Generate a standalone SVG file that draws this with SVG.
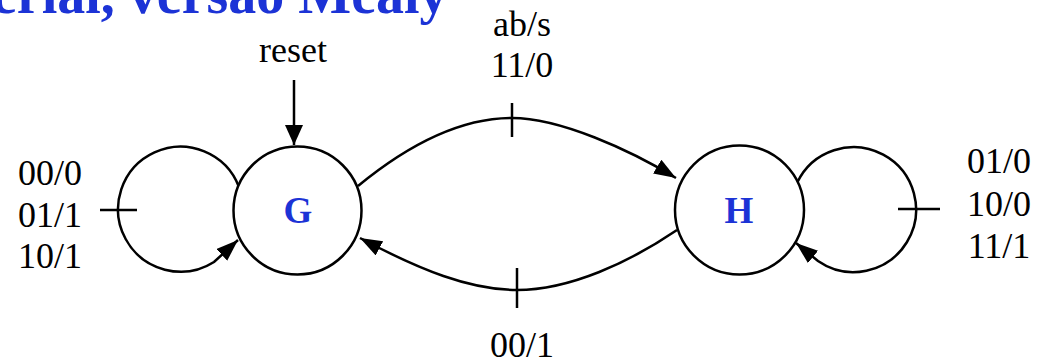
<svg xmlns="http://www.w3.org/2000/svg" width="1048" height="362" viewBox="0 0 1048 362">
<style>
.lbl{font-family:"Liberation Serif","Times New Roman",serif;font-size:36px;fill:#000;text-anchor:middle}
.st{font-family:"Liberation Serif","Times New Roman",serif;font-size:37px;font-weight:bold;fill:#1c33d6;text-anchor:middle}
.ttl{font-family:"Liberation Serif","Times New Roman",serif;font-size:56px;font-weight:bold;fill:#1c33d6}
.node{fill:#fff;stroke:#000;stroke-width:2.5}
.edge{fill:none;stroke:#000;stroke-width:2.5}
.tick{stroke:#000;stroke-width:2.5}
</style>
<defs>
<marker id="ah" markerUnits="userSpaceOnUse" markerWidth="24" markerHeight="18" refX="22" refY="8" orient="auto">
<path d="M0,0 L22,8 L0,16 z" fill="#000"/>
</marker>
<marker id="ahr" markerUnits="userSpaceOnUse" markerWidth="22" markerHeight="20" refX="20" refY="9" orient="auto">
<path d="M0,0 L20,9 L0,18 z" fill="#000"/>
</marker>
</defs>
<text class="ttl" x="-8" y="13">erial, versão Mealy</text>
<g id="connectors">
<path class="edge" d="M294 80 L294 145" marker-end="url(#ahr)"/>
<path class="edge" d="M239 187 A62.5 62.5 0 1 0 214 262 L238 240" marker-end="url(#ah)"/>
<path class="edge" d="M797 183 A62.5 62.5 0 1 1 818 261 L796 243" marker-end="url(#ah)"/>
<path class="edge" d="M358 186 C420 135 470 118 512 118 C560 118 630 150 676 178" marker-end="url(#ah)"/>
<path class="edge" d="M677 230 C630 262 570 290 517 290 C470 290 420 270 360 238" marker-end="url(#ah)"/>
<line class="tick" x1="512" y1="103" x2="512" y2="137"/>
<line class="tick" x1="517" y1="268" x2="517" y2="308"/>
<line class="tick" x1="100" y1="210" x2="137" y2="210"/>
<line class="tick" x1="898" y1="209" x2="940" y2="209"/>
<text class="lbl" x="293" y="62">reset</text>
<text class="lbl" x="522" y="36">ab/s</text>
<text class="lbl" x="522" y="77">11/0</text>
<text class="lbl" x="522" y="357">00/1</text>
<text class="lbl" x="50" y="185">00/0</text>
<text class="lbl" x="50" y="227">01/1</text>
<text class="lbl" x="50" y="268">10/1</text>
<text class="lbl" x="999" y="173">01/0</text>
<text class="lbl" x="999" y="216">10/0</text>
<text class="lbl" x="999" y="258">11/1</text>
</g>
<g id="G">
<circle class="node" cx="297.5" cy="210.5" r="64"/>
<text class="st" x="298" y="223">G</text>
</g>
<g id="H">
<circle class="node" cx="739.5" cy="210" r="64.5"/>
<text class="st" x="739" y="223">H</text>
</g>
</svg>
